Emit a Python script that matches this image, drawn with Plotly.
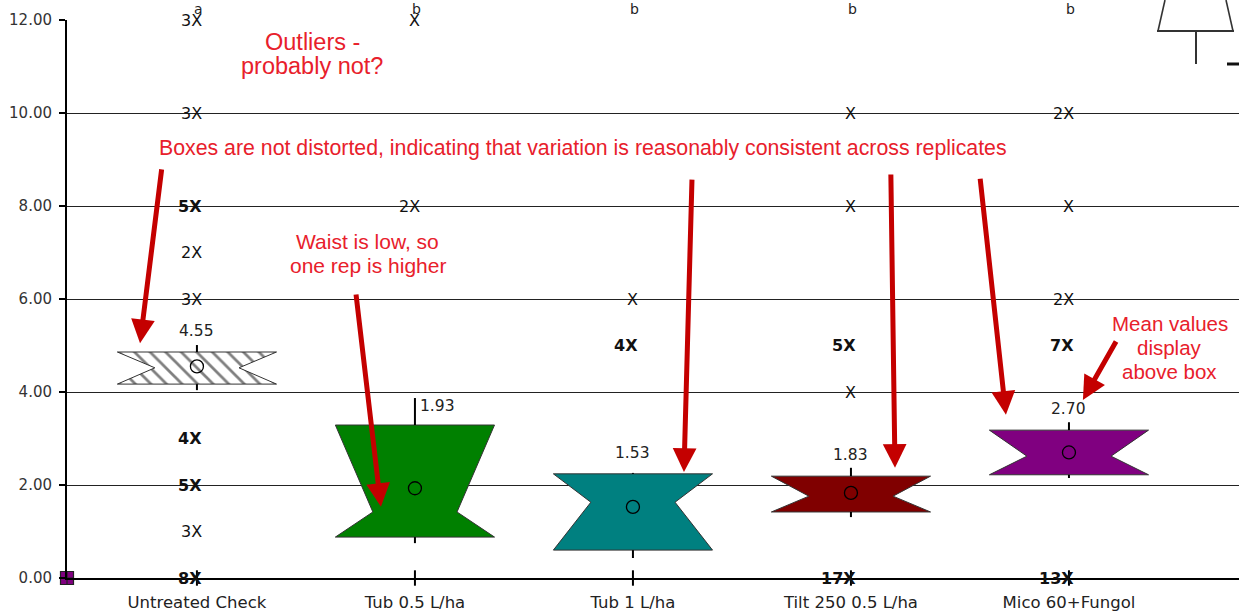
import plotly.graph_objects as go

# ---------------- data ----------------
categories = ["Untreated Check", "Tub 0.5 L/ha", "Tub 1 L/ha", "Tilt 250 0.5 L/ha", "Mico 60+Fungol"]
q1 = [4.17, 0.88, 0.60, 1.42, 2.22]
q3 = [4.86, 3.29, 2.24, 2.19, 3.18]
median = [4.52, 1.42, 1.63, 1.76, 2.62]
whisker_lo = [4.04, 0.75, 0.43, 1.31, 2.15]
whisker_hi = [5.01, 3.87, 2.26, 2.37, 3.35]
means = [4.55, 1.93, 1.53, 1.83, 2.70]
group_letters = ["a", "b", "b", "b", "b"]
box_colors = ["white", "#008000", "#008080", "#800000", "#800080"]

# outlier counts shown as "nX"
outlier_cat = [0, 0, 0, 0, 0, 0, 0, 0, 0, 1, 1, 2, 2, 3, 3, 3, 3, 3, 4, 4, 4, 4, 4]
outlier_y = [12, 10, 8, 7, 6, 3, 2, 1, 0, 12, 8, 6, 5, 10, 8, 5, 4, 0, 10, 8, 6, 5, 0]
outlier_n = [3, 3, 5, 2, 3, 4, 5, 3, 8, 1, 2, 1, 4, 1, 1, 5, 1, 17, 2, 1, 2, 7, 13]

y_ticks = [0, 2, 4, 6, 8, 10, 12]

# red callouts: lines, centre x, first-line y, font size
callout_lines = [["Outliers -", "probably not?"],
                 ["Boxes are not distorted, indicating that variation is reasonably consistent across replicates"],
                 ["Waist is low, so", "one rep is higher"],
                 ["Mean values", "display", "above box"]]
callout_x = [0.528, 1.771, 0.784, 4.463]
callout_y = [11.53, 9.25, 7.23, 5.48]
callout_size = [23.5, 21.3, 21, 20.5]

# red arrows: tail (x, y) -> tip (x, y)
arrow_tail_x = [-0.161, 0.729, 2.271, 3.183, 3.592, 4.220]
arrow_tail_y = [8.82, 6.13, 8.60, 8.71, 8.62, 5.12]
arrow_tip_x = [-0.261, 0.844, 2.234, 3.202, 3.711, 4.064]
arrow_tip_y = [5.05, 1.53, 2.28, 2.37, 3.51, 3.83]

# ---------------- figure ----------------
W, H = 1239, 614
ML, MR, MT, MB = 67, 0, 20, 36
X0, X1 = -0.596, 4.78
HALF, WAIST = 0.365, 0.193
FONT = "Liberation Sans, Arial, sans-serif"
WFONT = "DejaVu Sans, sans-serif"
RED_TXT = "#e8202b"
RED_ARW = "#c40000"
LINE_PITCH = 24

fig = go.Figure()

for i, cat in enumerate(categories):
    c = i
    xs = [c - HALF, c + HALF, c + WAIST, c + HALF, c - HALF, c - WAIST, c - HALF]
    ys = [q3[i], q3[i], median[i], q1[i], q1[i], median[i], q3[i]]
    kw = {}
    if i == 0:
        kw["fillpattern"] = dict(shape="\\", fgcolor="black", bgcolor="white", size=11, solidity=0.25)
    fig.add_trace(go.Scatter(x=xs, y=ys, mode="lines", fill="toself", fillcolor=box_colors[i],
                             line=dict(color="#333333", width=1), hoverinfo="skip", showlegend=False, **kw))
    # whiskers
    fig.add_trace(go.Scatter(x=[c, c, None, c, c], y=[q3[i], whisker_hi[i], None, q1[i], whisker_lo[i]],
                             mode="lines", line=dict(color="black", width=2), hoverinfo="skip", showlegend=False))

# mean circles
fig.add_trace(go.Scatter(x=list(range(len(categories))), y=means, mode="markers",
                         marker=dict(symbol="circle-open", size=13, color="black", line=dict(width=1.3)),
                         showlegend=False, hoverinfo="skip"))

# x tick marks crossing the axis
fig.add_trace(go.Scatter(x=list(range(len(categories))), y=[0] * len(categories), mode="markers",
                         marker=dict(symbol="line-ns-open", size=11, color="black", line=dict(width=2, color="black")),
                         cliponaxis=False, showlegend=False, hoverinfo="skip"))

# purple marker at origin
fig.add_trace(go.Scatter(x=[X0], y=[0], mode="markers",
                         marker=dict(symbol="square-cross", size=13, color="#800080",
                                     line=dict(width=1.2, color="#222")),
                         cliponaxis=False, showlegend=False, hoverinfo="skip"))

annotations = []
# mean value labels
for i in range(len(categories)):
    if whisker_hi[i] - q3[i] > 0.3:
        annotations.append(dict(x=i, y=whisker_hi[i], text=f"{means[i]:.2f}", showarrow=False,
                                xanchor="left", yanchor="top", xshift=3, yshift=3,
                                font=dict(family=WFONT, size=15.5, color="#222")))
    else:
        annotations.append(dict(x=i, y=q3[i], text=f"{means[i]:.2f}", showarrow=False,
                                xanchor="center", yanchor="bottom", yshift=10,
                                font=dict(family=WFONT, size=15.5, color="#222")))
# group letters
for i, g in enumerate(group_letters):
    annotations.append(dict(x=i, y=12, text=g, showarrow=False, xanchor="center", yanchor="bottom",
                            xshift=2, yshift=1, font=dict(family=WFONT, size=14, color="#222")))
# outlier counts
for c, y, n in zip(outlier_cat, outlier_y, outlier_n):
    t = "X" if n == 1 else f"{n}X"
    if n >= 4:
        t = f"<b>{t}</b>"
    annotations.append(dict(x=c, y=y, text=t, showarrow=False, xanchor="right", yanchor="middle",
                            xshift=7, font=dict(family=WFONT, size=16, color="#111")))
# red callout texts
for lines, x, y, s in zip(callout_lines, callout_x, callout_y, callout_size):
    for k, line in enumerate(lines):
        annotations.append(dict(x=x, y=y, text=line, showarrow=False, xanchor="center", yanchor="middle",
                                yshift=-k * LINE_PITCH, borderpad=0,
                                font=dict(family=FONT, size=s, color=RED_TXT)))
# red arrows
for tx, ty, hx, hy in zip(arrow_tail_x, arrow_tail_y, arrow_tip_x, arrow_tip_y):
    annotations.append(dict(x=hx, y=hy, ax=tx, ay=ty, xref="x", yref="y", axref="x", ayref="y",
                            text="", showarrow=True, arrowhead=2, arrowsize=0.95, arrowwidth=5,
                            arrowcolor=RED_ARW, standoff=0, startstandoff=0))


# legend inset fragment (top right), in pixel -> paper coords
def px(xp):
    return (xp - ML) / (W - ML - MR)


def py(yp):
    return (H - MB - yp) / (H - MT - MB)


shapes = [
    dict(type="rect", xref="paper", yref="paper", x0=px(1146), x1=px(1239), y0=py(36), y1=py(0),
         fillcolor="white", line=dict(width=0), layer="above"),
    dict(type="line", xref="paper", yref="paper", x0=px(1165), y0=py(0), x1=px(1158), y1=py(31),
         line=dict(color="#333", width=1.6), layer="above"),
    dict(type="line", xref="paper", yref="paper", x0=px(1226), y0=py(0), x1=px(1233), y1=py(31),
         line=dict(color="#333", width=1.6), layer="above"),
    dict(type="line", xref="paper", yref="paper", x0=px(1157), y0=py(31), x1=px(1234), y1=py(31),
         line=dict(color="#333", width=2), layer="above"),
    dict(type="line", xref="paper", yref="paper", x0=px(1196), y0=py(31), x1=px(1196), y1=py(64),
         line=dict(color="#333", width=2), layer="above"),
    dict(type="line", xref="paper", yref="paper", x0=px(1227), y0=py(64), x1=px(1239), y1=py(64),
         line=dict(color="#111", width=3), layer="above"),
]

fig.update_layout(
    width=W, height=H,
    margin=dict(l=ML, r=MR, t=MT, b=MB, pad=0),
    paper_bgcolor="white", plot_bgcolor="white",
    showlegend=False,
    annotations=annotations,
    shapes=shapes,
    font=dict(family=FONT),
)
fig.update_xaxes(range=[X0, X1], tickvals=list(range(len(categories))), ticktext=categories,
                 showgrid=False, zeroline=False, showline=True, linecolor="black", linewidth=2,
                 ticks="", tickfont=dict(family=WFONT, size=16.5, color="#222"), ticklabelstandoff=8)
fig.update_yaxes(range=[0, 12], tickvals=y_ticks, tickformat=".2f",
                 showgrid=True, gridcolor="#222", gridwidth=1, zeroline=False,
                 showline=True, linecolor="black", linewidth=2,
                 ticks="outside", ticklen=6, tickwidth=2, tickcolor="black",
                 tickfont=dict(family=WFONT, size=15, color="#333"), ticklabelstandoff=4)

fig.write_html("out.html", config={"displayModeBar": False},
               post_script="document.body.style.margin='0';")
